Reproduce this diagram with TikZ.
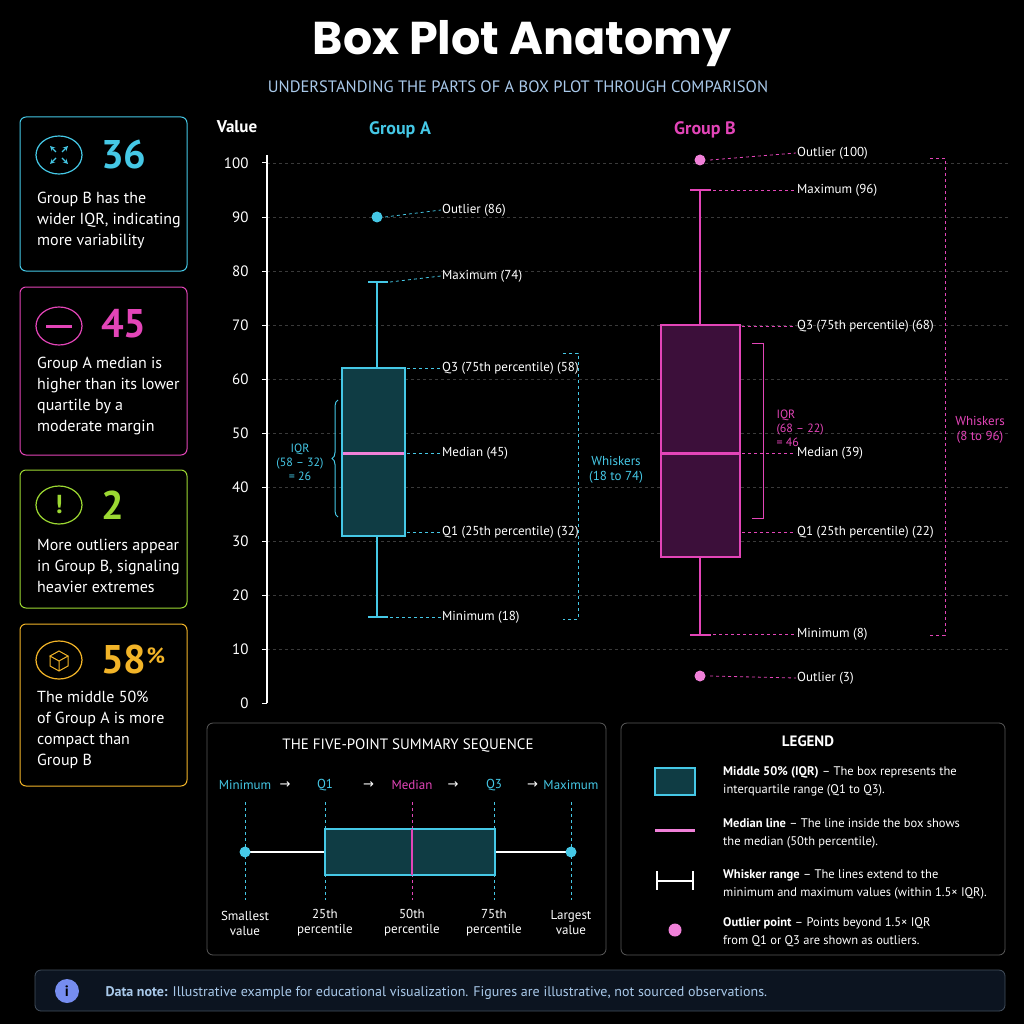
\documentclass[tikz,border=0pt]{standalone}
\usepackage{fontspec}
\setmainfont{PT Sans}
\newfontfamily\symfont{DejaVu Sans}
\newfontfamily\titlefont{Poppins}
\usetikzlibrary{positioning,calc,decorations.pathreplacing}
\definecolor{acyan}{HTML}{45C8E6}
\definecolor{bpink}{HTML}{E345B8}
\definecolor{lpink}{HTML}{F080D8}
\definecolor{agreen}{HTML}{9CD832}
\definecolor{aorange}{HTML}{F2B428}
\definecolor{afill}{HTML}{0F3C44}
\definecolor{bfill}{HTML}{3C0F3A}
\definecolor{subblue}{HTML}{A9C9EA}
\definecolor{gridgray}{HTML}{3A3A3A}
\definecolor{panelgray}{HTML}{5A5A5A}
\definecolor{notebar}{HTML}{0C1420}
\tikzset{%
  lbl/.style={text=white, font=\fontsize{13}{15}\selectfont, anchor=west, inner sep=1pt},
  lead/.style={dashed, line width=0.8pt},
  card/.style={rounded corners=6pt, line width=1pt, fill=black},
  cardtxt/.style={text=white, font=\fontsize{16}{21}\selectfont, align=left, anchor=north west, inner sep=0pt},
  bignum/.style={font=\bfseries\fontsize{40}{40}\selectfont, anchor=west, inner sep=0pt},
  panel/.style={rounded corners=6pt, draw=panelgray, line width=0.8pt, fill=black},
  smalltxt/.style={text=white, font=\fontsize{13}{15}\selectfont, align=center},
}
\begin{document}
\begin{tikzpicture}[x=1pt, y=-1pt, >=stealth]
  \fill[black] (0,0) rectangle (1024,1024);
  \useasboundingbox (0,0) rectangle (1024,1024);

  % title
  \node[text=white, font=\titlefont\bfseries\fontsize{46}{46}\selectfont] (title) at (522,44) {Box Plot Anatomy};
  \node[text=subblue, font=\fontsize{16.5}{16.5}\selectfont] (subtitle) at (518,87) {UNDERSTANDING THE PARTS OF A BOX PLOT THROUGH COMPARISON};

  % cards
  \draw[card, draw=acyan] (20,117) rectangle (187,271);
  \draw[card, draw=bpink] (20,287) rectangle (187,455);
  \draw[card, draw=agreen] (20,470) rectangle (187,608);
  \draw[card, draw=aorange] (20,624) rectangle (187,786);
  \foreach \c/\y in {acyan/155, bpink/326, agreen/505, aorange/660}
    \draw[\c, line width=1.2pt] (59,\y) ellipse (23 and 19);
  % icons
  \foreach \dx/\dy in {1/1,-1/1,1/-1,-1/-1}
    \draw[acyan, line width=1.2pt, ->] (59+3*\dx,155+3*\dy) -- (59+9*\dx,155+9*\dy);
  \draw[bpink, line width=3pt] (46,326) -- (72,326);
  \node[text=agreen, font=\bfseries\fontsize{26}{26}\selectfont] (bang) at (59,505) {!};
  \draw[aorange, line width=1pt] (50,656) -- (59,651) -- (68,656) -- (59,661) -- cycle
    (50,656) -- (50,666) -- (59,671) -- (68,666) -- (68,656) (59,661) -- (59,671);
  \node[bignum, text=acyan] (n1) at (101,155) {36};
  \node[bignum, text=bpink] (n2) at (101,324) {45};
  \node[bignum, text=agreen] (n3) at (101,505) {2};
  \node[bignum, text=aorange] (n4) at (101,659) {58\raisebox{10pt}{\fontsize{22}{22}\selectfont\%}};
  \node[cardtxt] (t1) at (37,192) {Group B has the\\wider IQR, indicating\\more variability};
  \node[cardtxt] (t2) at (37,357) {Group A median is\\higher than its lower\\quartile by a\\moderate margin};
  \node[cardtxt] (t3) at (37,539) {More outliers appear\\in Group B, signaling\\heavier extremes};
  \node[cardtxt] (t4) at (37,691) {The middle 50\%\\of Group A is more\\compact than\\Group B};

  % axis and grid
  \foreach \v in {0,10,...,100} {
    \ifnum\v>0 \draw[gridgray, dashed, line width=0.6pt] (267,{703-5.4*\v}) -- (1010,{703-5.4*\v}); \fi
    \draw[white, line width=1pt] (262,{703-5.4*\v}) -- (267,{703-5.4*\v});
    \node[text=white, font=\fontsize{15}{15}\selectfont, anchor=east] (tick-\v) at (252,{703-5.4*\v}) {\v};
  }
  \draw[white, line width=1.2pt] (267,155) -- (267,703);
  \node[text=white, font=\bfseries\fontsize{17}{17}\selectfont] (ylab) at (237,127) {Value};
  \node[text=acyan, font=\bfseries\fontsize{18}{18}\selectfont] (ga) at (400,130) {Group A};
  \node[text=bpink, font=\bfseries\fontsize{18}{18}\selectfont] (gb) at (705,130) {Group B};

  % group A
  \draw[acyan, line width=1.5pt] (377,282) -- (377,368) (377,536) -- (377,617)
    (368,282) -- (388,282) (368,617) -- (388,617);
  \draw[acyan, fill=afill, line width=1.5pt] (342,368) rectangle (405,536);
  \draw[lpink, line width=3pt] (343,453) -- (404,453);
  \fill[acyan] (377,217) circle (5.5);
  \foreach \nm/\t/\y/\py/\px in {aout/Outlier (86)/210/217/385, amax/Maximum (74)/276/282/390,
      aq3/Q3 (75th percentile) (58)/368/368/407, amed/Median (45)/453/453/407,
      aq1/Q1 (25th percentile) (32)/532/532/407, amin/Minimum (18)/617/617/390} {
    \node[lbl] (\nm) at (441,\y) {\t};
    \draw[lead, acyan] (\px,\py) -- (\nm.west);
  }
  \draw[acyan, line width=1pt, decorate, decoration={brace, amplitude=6pt, mirror}] (338,400) -- (338,517);
  \node[text=acyan, font=\fontsize{12}{14}\selectfont, align=center] (aiqr) at (300,462) {IQR\\(58 -- 32)\\= 26};
  \draw[acyan, lead] (563,353) -- (578,353) -- (578,619) -- (563,619);
  \node[text=acyan, font=\fontsize{13}{15}\selectfont, align=center] (awh) at (616,470) {Whiskers\\(18 to 74)};

  % group B
  \draw[bpink, line width=1.5pt] (700,190) -- (700,325) (700,557) -- (700,635)
    (690,190) -- (711,190) (690,635) -- (711,635);
  \draw[bpink, fill=bfill, line width=1.5pt] (661,325) rectangle (740,557);
  \draw[bpink, line width=3pt] (662,453) -- (739,453);
  \fill[lpink] (700,160) circle (5.5);
  \fill[lpink] (700,676) circle (5.5);
  \foreach \nm/\t/\y/\py/\px in {bout1/Outlier (100)/153/160/710, bmax/Maximum (96)/190/190/713,
      bq3/Q3 (75th percentile) (68)/326/326/742, bmed/Median (39)/453/453/742,
      bq1/Q1 (25th percentile) (22)/532/532/742, bmin/Minimum (8)/634/634/713,
      bout2/Outlier (3)/678/676/710} {
    \node[lbl] (\nm) at (796,\y) {\t};
    \draw[lead, bpink] (\px,\py) -- (\nm.west);
  }
  \draw[bpink, line width=1pt] (752,343) -- (763,343) -- (763,518) -- (752,518);
  \node[text=bpink, font=\fontsize{12}{14}\selectfont, align=left, anchor=west] (biqr) at (773,428) {IQR\\(68 -- 22)\\= 46};
  \draw[bpink, lead] (930,158) -- (945,158) -- (945,635) -- (930,635);
  \node[text=bpink, font=\fontsize{13}{15}\selectfont, align=center] (bwh) at (980,430) {Whiskers\\(8 to 96)};

  % five-point panel
  \draw[panel] (207,723) rectangle (606,955);
  \node[text=white, font=\fontsize{15}{15}\selectfont] (fptitle) at (408,746) {THE FIVE-POINT SUMMARY SEQUENCE};
  \foreach \nm/\t/\x/\c/\b/\bb in {fmin/Minimum/245/acyan/Smallest/value, fq1/Q1/325/acyan/25th/percentile,
      fmed/Median/412/bpink/50th/percentile, fq3/Q3/494/acyan/75th/percentile, fmax/Maximum/571/acyan/Largest/value} {
    \node[text=\c, font=\fontsize{13}{15}\selectfont] (\nm) at (\x,785) {\t};
    \node[smalltxt] (\nm-b) at (\x,923) {\b\\\bb};
    \draw[\c, dashed, line width=0.7pt] (\x,802) -- (\x,900);
  }
  \foreach \a/\b in {fmin/fq1, fq1/fmed, fmed/fq3, fq3/fmax}
    \node[text=white, font=\symfont\fontsize{13}{13}\selectfont] at ($(\a)!0.5!(\b)$) {→};
  \draw[white, line width=1.2pt] (245,852) -- (571,852);
  \draw[acyan, fill=afill, line width=1.2pt] (325,829) rectangle (495,875);
  \draw[bpink, line width=1.2pt] (412,829) -- (412,875);
  \fill[acyan] (245,852) circle (5.5) (571,852) circle (5.5);

  % legend
  \draw[panel] (621,723) rectangle (1005,955);
  \node[text=white, font=\bfseries\fontsize{15}{15}\selectfont] (legtitle) at (808,741) {LEGEND};
  \draw[acyan, fill=afill, line width=1.2pt] (655,768) rectangle (695,795);
  \draw[lpink, line width=3pt] (655,830) -- (695,830);
  \draw[white, line width=1.5pt] (657,871) -- (657,890) (657,881) -- (693,881) (693,871) -- (693,890);
  \fill[lpink] (675,930) circle (6.5);
  \foreach \nm/\y/\h/\r/\s in {lbox/772/Middle 50\% (IQR)/ -- The box represents the/interquartile range (Q1 to Q3).,
      lmed/824/Median line/ -- The line inside the box shows/the median (50th percentile).,
      lwh/875/Whisker range/ -- The lines extend to the/minimum and maximum values (within 1.5× IQR).,
      lout/923/Outlier point/ -- Points beyond 1.5× IQR/from Q1 or Q3 are shown as outliers.}
    \node[text=white, font=\fontsize{12.5}{18}\selectfont, align=left, anchor=west, inner sep=0pt] (\nm) at (723,\y+9) {\textbf{\h}\r\\\s};

  % data note
  \draw[rounded corners=6pt, draw=subblue!40!black, fill=notebar, line width=0.8pt] (35,970) rectangle (1005,1011);
  \fill[subblue!70!blue] (67,991) circle (12);
  \node[text=black, font=\bfseries\fontsize{15}{15}\selectfont] (info) at (67,991) {i};
  \node[text=subblue, font=\fontsize{14}{14}\selectfont, anchor=west] (note) at (102,993) {\textbf{Data note:} Illustrative example for educational visualization. Figures are illustrative, not sourced observations.};
\end{tikzpicture}
\end{document}
